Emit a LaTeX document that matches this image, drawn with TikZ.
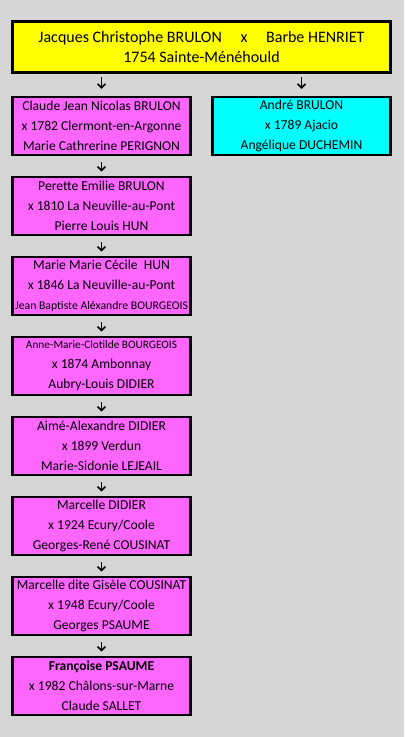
\documentclass[tikz,border=0pt]{standalone}
\usepackage{fontspec}
\setmainfont{Carlito}
\usetikzlibrary{arrows.meta}
\definecolor{bg}{HTML}{D6D6D6}
\definecolor{pinkbox}{HTML}{FF66FF}
\definecolor{cyanbox}{HTML}{00FFFF}
\definecolor{yellowbox}{HTML}{FFFF00}
\begin{document}
\begin{tikzpicture}[x=0.75pt,y=-0.75pt,
  box/.style={draw=black, line width=2pt, inner sep=0pt, align=center,
    minimum width=133.5pt, minimum height=43.5pt,
    font=\fontsize{10.2}{15}\selectfont},
  pbox/.style={box, fill=pinkbox},
  cbox/.style={box, fill=cyanbox},
  ybox/.style={box, fill=yellowbox, minimum width=283.5pt, minimum height=38.25pt,
    font=\fontsize{12}{15}\selectfont},
  arr/.style={line width=1.2pt, -{Straight Barb[length=3pt,width=6pt]}}]
\fill[bg] (0,0) rectangle (404,737);
\node[ybox] (top) at (201.5,47) {Jacques Christophe BRULON\hspace{14pt}x\hspace{14pt}Barbe HENRIET\\1754 Sainte-Ménéhould};
\node[pbox] (b1) at (101.5,126) {Claude Jean Nicolas BRULON\\x 1782 Clermont-en-Argonne\\Marie Cathrerine PERIGNON};
\node[cbox] (a1) at (301.5,126) {André BRULON\\x 1789 Ajacio\\Angélique DUCHEMIN};
\node[pbox] (b2) at (101.5,206) {Perette Emilie BRULON\\x 1810 La Neuville-au-Pont\\Pierre Louis HUN};
\node[pbox] (b3) at (101.5,286) {Marie Marie Cécile\ \ HUN\\x 1846 La Neuville-au-Pont\\{\fontsize{8.8}{15}\selectfont Jean Baptiste Aléxandre BOURGEOIS}};
\node[pbox] (b4) at (101.5,366) {{\fontsize{8.5}{15}\selectfont Anne-Marie-Clotilde BOURGEOIS}\\x 1874 Ambonnay\\Aubry-Louis DIDIER};
\node[pbox] (b5) at (101.5,446) {Aimé-Alexandre DIDIER\\x 1899 Verdun\\Marie-Sidonie LEJEAIL};
\node[pbox] (b6) at (101.5,526) {Marcelle DIDIER\\x 1924 Ecury/Coole\\Georges-René COUSINAT};
\node[pbox] (b7) at (101.5,606) {Marcelle dite Gisèle COUSINAT\\x 1948 Ecury/Coole\\Georges PSAUME};
\node[pbox] (b8) at (101.5,686) {\textbf{Françoise PSAUME}\\x 1982 Châlons-sur-Marne\\Claude SALLET};
\draw[arr, shorten <=2.5pt, shorten >=5pt] (top.south -| b1) -- (b1.north);
\draw[arr, shorten <=2.5pt, shorten >=5pt] (top.south -| a1) -- (a1.north);
\foreach \u/\v in {b1/b2,b2/b3,b3/b4,b4/b5,b5/b6,b6/b7,b7/b8}
  \draw[arr, shorten <=4.5pt, shorten >=3pt] (\u.south) -- (\v.north);
\end{tikzpicture}
\end{document}
